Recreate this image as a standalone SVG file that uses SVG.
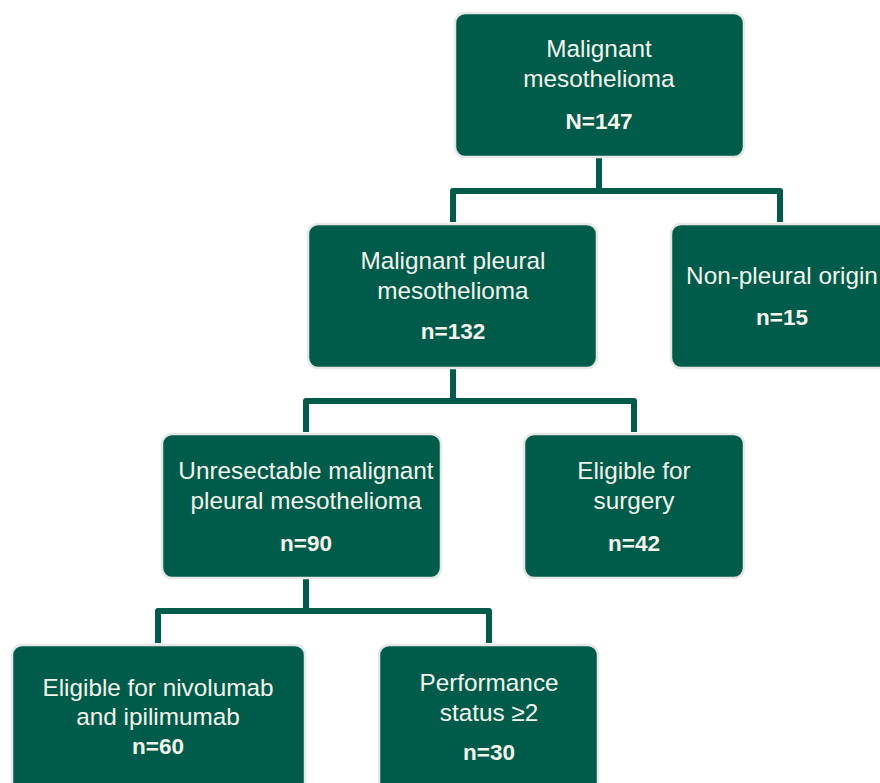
<svg xmlns="http://www.w3.org/2000/svg" width="880" height="783" viewBox="0 0 880 783">
  <style>
    .box { fill: #005c4a; stroke: #e6e8e6; stroke-width: 2.5; }
    .lbl { font-family: "Liberation Sans", Arial, sans-serif; font-size: 24.3px; fill: #f4f4ec; text-anchor: middle; }
    .num { font-family: "Liberation Sans", Arial, sans-serif; font-size: 22.5px; font-weight: bold; fill: #f4f4ec; text-anchor: middle; }
    .link { fill: none; stroke: #005c4a; stroke-width: 6; stroke-linejoin: round; }
  </style>
  <rect width="880" height="783" fill="#ffffff"/>

  <!-- connectors -->
  <g id="connectors">
    <path class="link" d="M599 157 V191 M453 222 V191 H780 V222"/>
    <path class="link" d="M453 368 V401 M306 432 V401 H634 V432"/>
    <path class="link" d="M306 578 V611 M158 643 V611 H489 V643"/>
  </g>

  <g id="node-mm">
    <rect class="box" x="455" y="13" width="289" height="144" rx="10"/>
    <text class="lbl" x="599" y="57">Malignant</text>
    <text class="lbl" x="599" y="87">mesothelioma</text>
    <text class="num" x="599" y="129">N=147</text>
  </g>

  <g id="node-mpm">
    <rect class="box" x="308" y="224" width="289" height="144" rx="10"/>
    <text class="lbl" x="453" y="269">Malignant pleural</text>
    <text class="lbl" x="453" y="299">mesothelioma</text>
    <text class="num" x="453" y="339">n=132</text>
  </g>

  <g id="node-nonpleural">
    <rect class="box" x="671" y="224" width="230" height="144" rx="10"/>
    <text class="lbl" x="782" y="284">Non-pleural origin</text>
    <text class="num" x="782" y="325">n=15</text>
  </g>

  <g id="node-unresectable">
    <rect class="box" x="162" y="434" width="279" height="144" rx="10"/>
    <text class="lbl" x="306" y="479">Unresectable malignant</text>
    <text class="lbl" x="306" y="509">pleural mesothelioma</text>
    <text class="num" x="306" y="551">n=90</text>
  </g>

  <g id="node-surgery">
    <rect class="box" x="524" y="434" width="220" height="144" rx="10"/>
    <text class="lbl" x="634" y="479">Eligible for</text>
    <text class="lbl" x="634" y="509">surgery</text>
    <text class="num" x="634" y="551">n=42</text>
  </g>

  <g id="node-nivo-ipi">
    <rect class="box" x="12" y="645" width="293" height="150" rx="10"/>
    <text class="lbl" x="158" y="696">Eligible for nivolumab</text>
    <text class="lbl" x="158" y="725">and ipilimumab</text>
    <text class="num" x="158" y="754">n=60</text>
  </g>

  <g id="node-ps2">
    <rect class="box" x="379" y="645" width="219" height="150" rx="10"/>
    <text class="lbl" x="489" y="691">Performance</text>
    <text class="lbl" x="489" y="721">status ≥2</text>
    <text class="num" x="489" y="760">n=30</text>
  </g>
</svg>
